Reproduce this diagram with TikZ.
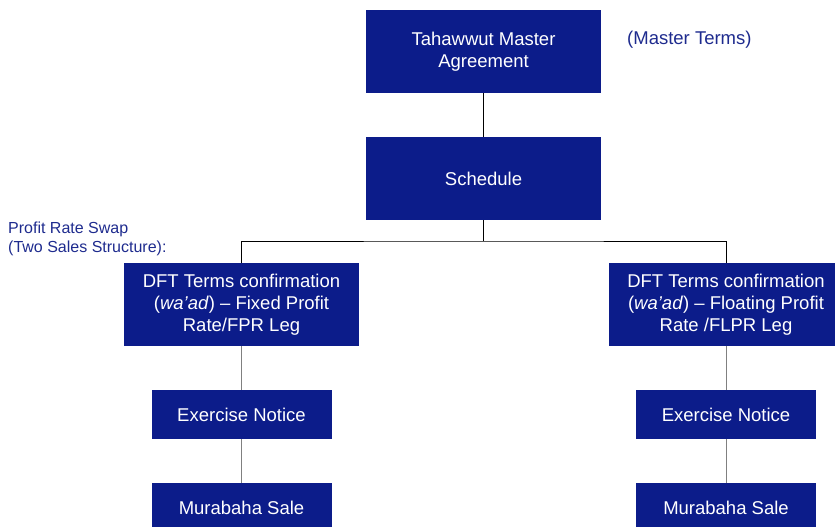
\documentclass[tikz,border=0pt]{standalone}
\usepackage{fontspec}
\setmainfont{Liberation Sans}
\definecolor{boxblue}{HTML}{0C1C8A}
\definecolor{labelblue}{HTML}{1E2B8E}
\tikzset{
  docbox/.style={fill=boxblue, text=white, align=center, inner sep=0pt,
    minimum width=235pt, minimum height=83pt, font=\fontsize{18.5}{22}\selectfont},
  stepbox/.style={docbox, minimum width=180pt, minimum height=49pt},
  note/.style={text=labelblue, inner sep=0pt, align=left}
}

\begin{document}
\begin{tikzpicture}[x=1pt,y=-1pt]
  \clip (0,0) rectangle (835,527);

  \node[docbox] (master) at (483.5,51.5) {Tahawwut Master\\Agreement};
  \node[docbox] (sched) at (483.5,178.5) {Schedule};
  \node[docbox] (fixed) at (241.5,304.5) {DFT Terms confirmation\\(\textit{wa’ad}) – Fixed Profit\\Rate/FPR Leg};
  \node[docbox] (float) at (726,304.5) {DFT Terms confirmation\\(\textit{wa’ad}) – Floating Profit\\Rate /FLPR Leg};
  \node[stepbox] (exL) at (241.5,414.5) {Exercise Notice};
  \node[stepbox] (exR) at (726,414.5) {Exercise Notice};
  \node[stepbox] (murL) at (241.5,507.5) {Murabaha Sale};
  \node[stepbox] (murR) at (726,507.5) {Murabaha Sale};

  \node[note, anchor=base west, font=\fontsize{18.5}{22}\selectfont] (mterms) at (627,45) {(Master Terms)};
  \node[note, anchor=north west, font=\fontsize{16}{19}\selectfont] (prs) at (8,221.5) {Profit Rate Swap\\(Two Sales Structure):};

  \coordinate (bus) at (483.5,241);
  \draw (master) -- (sched);
  \draw (sched) -- (bus);
  \draw (fixed.north) |- (bus) -| (float.north);
  \draw[gray] (fixed) -- (exL) -- (murL);
  \draw[gray] (float) -- (exR) -- (murR);
\end{tikzpicture}
\end{document}
